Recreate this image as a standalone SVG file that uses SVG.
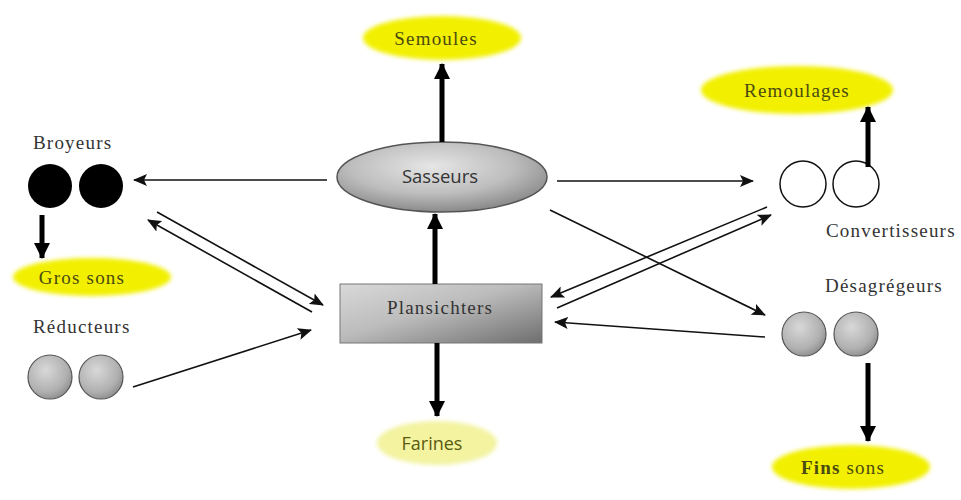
<svg xmlns="http://www.w3.org/2000/svg" width="961" height="500" viewBox="0 0 961 500">
<style>
.lbl{font-family:"Liberation Serif","Times New Roman",serif;font-size:19px;letter-spacing:1.2px;fill:#333}
.prod{font-family:"Liberation Serif","Times New Roman",serif;font-size:19px;letter-spacing:1.2px;fill:#4a4a10}
.thin{stroke:#111;stroke-width:1.6;fill:none;marker-end:url(#ah)}
.thick{stroke:#000;stroke-width:5;fill:none;marker-end:url(#AH)}
.yel{fill:#f2f000;filter:url(#soft)}
.gball{fill:url(#gb);stroke:#555;stroke-width:1.2}
</style>
<defs>
<filter id="soft" x="-20%" y="-40%" width="140%" height="180%"><feGaussianBlur stdDeviation="2.2"/></filter>
<marker id="ah" markerUnits="userSpaceOnUse" markerWidth="14" markerHeight="12" refX="13" refY="6" orient="auto"><path d="M0,0 L14,6 L0,12 L3,6 Z" fill="#111"/></marker>
<marker id="AH" markerUnits="userSpaceOnUse" markerWidth="16" markerHeight="16" refX="15" refY="8" orient="auto"><path d="M0,0 L16,8 L0,16 Z" fill="#000"/></marker>
<radialGradient id="gb" cx="40%" cy="35%" r="70%"><stop offset="0" stop-color="#d8d8d8"/><stop offset="0.7" stop-color="#b0b0b0"/><stop offset="1" stop-color="#8a8a8a"/></radialGradient>
<radialGradient id="gs" cx="45%" cy="35%" r="65%"><stop offset="0" stop-color="#e6e6e6"/><stop offset="0.6" stop-color="#bdbdbd"/><stop offset="1" stop-color="#8a8a8a"/></radialGradient>
<linearGradient id="gp" x1="0" y1="0" x2="1" y2="1"><stop offset="0" stop-color="#d9d9d9"/><stop offset="0.45" stop-color="#bcbcbc"/><stop offset="1" stop-color="#6e6e6e"/></linearGradient>
</defs>
<rect width="961" height="500" fill="#fff"/>

<g id="semoules"><ellipse class="yel" cx="442" cy="38" rx="79" ry="22"/><text class="prod" x="436" y="45" text-anchor="middle">Semoules</text></g>
<g id="sasseurs"><ellipse cx="442" cy="177" rx="105" ry="35" fill="url(#gs)" stroke="#555" stroke-width="1.5"/><text x="440" y="183" text-anchor="middle" font-family="'Open Sans','DejaVu Sans',sans-serif" font-size="18.5" fill="#333">Sasseurs</text></g>
<g id="broyeurs"><text class="lbl" x="33" y="149">Broyeurs</text><circle cx="50" cy="186" r="22" fill="#000"/><circle cx="101" cy="186" r="22" fill="#000"/></g>
<g id="gros-sons"><ellipse class="yel" cx="92" cy="277" rx="79" ry="19"/><text class="prod" x="82" y="284" text-anchor="middle">Gros sons</text></g>
<g id="reducteurs"><text class="lbl" x="33" y="333">Réducteurs</text><circle class="gball" cx="50" cy="377" r="22"/><circle class="gball" cx="101" cy="377" r="22"/></g>
<g id="plansichters"><rect x="340" y="284" width="202" height="59" fill="url(#gp)" stroke="#777" stroke-width="1"/><text class="lbl" x="440" y="314" text-anchor="middle" fill="#222">Plansichters</text></g>
<g id="farines"><ellipse cx="437" cy="443" rx="60" ry="22" fill="#f3f3a0" filter="url(#soft)"/><text x="432" y="450" text-anchor="middle" font-family="'Open Sans','DejaVu Sans',sans-serif" font-size="18" fill="#5a5a10">Farines</text></g>
<g id="remoulages"><ellipse class="yel" cx="797" cy="90" rx="96" ry="24"/><text class="prod" x="797" y="97" text-anchor="middle">Remoulages</text></g>
<g id="convertisseurs"><circle cx="803" cy="184" r="23" fill="#fff" stroke="#111" stroke-width="1.5"/><circle cx="856" cy="184" r="23" fill="#fff" stroke="#111" stroke-width="1.5"/><text class="lbl" x="826" y="237">Convertisseurs</text></g>
<g id="desagregeurs"><text class="lbl" x="825" y="292">Désagrégeurs</text><circle class="gball" cx="804" cy="334" r="22"/><circle class="gball" cx="856" cy="334" r="22"/></g>
<g id="fins-sons"><ellipse class="yel" cx="851" cy="467" rx="79" ry="22"/><text class="prod" x="843" y="474" text-anchor="middle"><tspan font-weight="bold">Fins</tspan> sons</text></g>

<g id="connectors">
<line class="thick" x1="442" y1="142" x2="442" y2="64"/>
<line class="thin" x1="327" y1="180" x2="134" y2="180"/>
<line class="thick" x1="42" y1="215" x2="42" y2="258"/>
<line class="thin" x1="157" y1="212" x2="323" y2="305"/>
<line class="thin" x1="312" y1="312" x2="148" y2="220"/>
<line class="thin" x1="133" y1="387" x2="311" y2="330"/>
<line class="thick" x1="435" y1="284" x2="435" y2="214"/>
<line class="thick" x1="437" y1="343" x2="437" y2="416"/>
<line class="thin" x1="557" y1="181" x2="753" y2="181"/>
<line class="thick" x1="868" y1="167" x2="868" y2="107"/>
<line class="thin" x1="767" y1="207" x2="551" y2="297"/>
<line class="thin" x1="557" y1="308" x2="771" y2="215"/>
<line class="thin" x1="550" y1="210" x2="765" y2="315"/>
<line class="thin" x1="765" y1="337" x2="555" y2="322"/>
<line class="thick" x1="868" y1="363" x2="868" y2="441"/>
</g>
</svg>
